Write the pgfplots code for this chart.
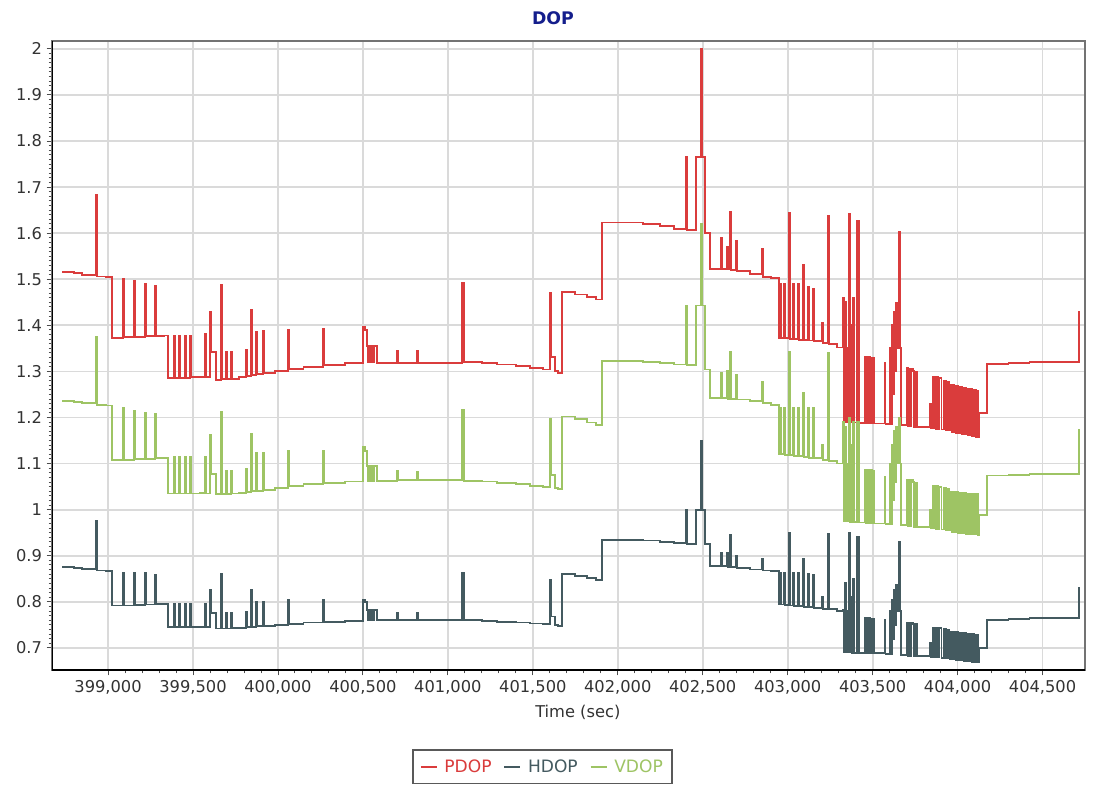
\documentclass[border=0pt]{standalone}
\usepackage{pgfplots}
\pgfplotsset{compat=1.18}
\usepackage{pgfplotstable}
\usepackage{fontspec}
\setmainfont{DejaVu Sans}
\definecolor{pcol}{RGB}{218,60,60}
\definecolor{hcol}{RGB}{68,90,96}
\definecolor{vcol}{RGB}{158,196,100}
\definecolor{gridc}{RGB}{218,218,218}
\definecolor{titlec}{RGB}{20,30,140}
\newcommand\tf{\fontsize{12.2}{14.5}\selectfont}

\pgfplotstableread{
t p h v
398729 1.516 0.875 1.236
398800 1.513 0.874 1.234
398847 1.510 0.871 1.232
398929 1.683 0.975 1.375
398937 1.506 0.868 1.228
398990 1.505 0.867 1.226
399024 1.373 0.792 1.108
399088 1.500 0.862 1.220
399094 1.374 0.792 1.108
399153 1.497 0.862 1.215
399159 1.375 0.793 1.109
399218 1.490 0.862 1.210
399224 1.376 0.794 1.110
399276 1.486 0.858 1.208
399282 1.377 0.795 1.112
399330 1.378 0.796 1.113
399353 1.286 0.745 1.035
399388 1.377 0.795 1.115
399393 1.286 0.745 1.035
399418 1.377 0.795 1.115
399423 1.286 0.745 1.035
399453 1.377 0.795 1.115
399458 1.286 0.745 1.035
399482 1.377 0.795 1.115
399487 1.287 0.745 1.035
399540 1.288 0.745 1.036
399571 1.382 0.795 1.115
399576 1.288 0.745 1.035
399600 1.430 0.825 1.163
399606 1.343 0.775 1.078
399635 1.282 0.742 1.033
399665 1.488 0.860 1.213
399671 1.283 0.742 1.033
399694 1.343 0.775 1.084
399699 1.283 0.742 1.034
399723 1.343 0.775 1.084
399728 1.284 0.743 1.035
399770 1.287 0.744 1.037
399812 1.347 0.777 1.089
399817 1.290 0.745 1.039
399841 1.434 0.825 1.165
399847 1.292 0.746 1.040
399871 1.386 0.800 1.124
399876 1.294 0.747 1.041
399912 1.388 0.800 1.124
399917 1.297 0.748 1.043
399980 1.300 0.750 1.047
400059 1.390 0.805 1.128
400065 1.305 0.752 1.052
400150 1.310 0.755 1.055
400265 1.393 0.805 1.128
400271 1.314 0.757 1.058
400394 1.318 0.759 1.061
400500 1.397 0.805 1.135
400512 1.390 0.800 1.128
400522 1.356 0.783 1.095
400530 1.320 0.761 1.062
400536 1.356 0.783 1.095
400546 1.320 0.761 1.062
400552 1.356 0.783 1.095
400562 1.320 0.761 1.062
400568 1.356 0.783 1.095
400585 1.319 0.761 1.063
400700 1.345 0.775 1.085
400706 1.319 0.761 1.064
400818 1.345 0.775 1.082
400824 1.319 0.761 1.065
401082 1.492 0.862 1.217
401096 1.321 0.761 1.063
401200 1.318 0.759 1.061
401288 1.315 0.757 1.058
401400 1.311 0.755 1.055
401482 1.308 0.753 1.052
401559 1.304 0.752 1.049
401600 1.470 0.848 1.197
401606 1.332 0.768 1.076
401629 1.300 0.750 1.047
401650 1.297 0.748 1.045
401671 1.473 0.860 1.202
401750 1.467 0.856 1.196
401820 1.461 0.851 1.189
401870 1.456 0.847 1.184
401906 1.623 0.935 1.323
402150 1.620 0.933 1.320
402250 1.615 0.930 1.318
402330 1.609 0.927 1.315
402400 1.766 1.000 1.443
402407 1.607 0.926 1.314
402459 1.766 1.000 1.443
402490 2.000 1.150 1.620
402497 1.766 1.000 1.443
402512 1.600 0.925 1.304
402541 1.523 0.878 1.243
402606 1.590 0.905 1.297
402612 1.522 0.877 1.242
402641 1.571 0.905 1.300
402647 1.521 0.876 1.241
402659 1.646 0.945 1.343
402665 1.520 0.875 1.240
402694 1.583 0.900 1.293
402700 1.518 0.874 1.239
402780 1.512 0.870 1.235
402847 1.566 0.893 1.278
402853 1.505 0.868 1.232
402900 1.502 0.866 1.228
402947 1.373 0.794 1.120
402955 1.490 0.863 1.220
402961 1.373 0.794 1.120
402976 1.490 0.863 1.220
402982 1.372 0.793 1.119
403006 1.644 0.950 1.343
403012 1.371 0.792 1.118
403029 1.490 0.863 1.220
403035 1.370 0.791 1.117
403059 1.490 0.863 1.220
403065 1.369 0.790 1.116
403088 1.530 0.892 1.253
403094 1.368 0.789 1.115
403118 1.484 0.860 1.220
403124 1.367 0.788 1.113
403147 1.480 0.858 1.220
403153 1.366 0.787 1.112
403200 1.405 0.810 1.140
403210 1.362 0.785 1.108
403235 1.638 0.948 1.340
403241 1.360 0.784 1.106
403290 1.352 0.780 1.100
403324 1.460 0.783 1.190
403330 1.190 0.690 0.975
403336 1.450 0.840 1.180
403342 1.190 0.690 0.975
403348 1.350 0.780 1.100
403353 1.190 0.690 0.975
403359 1.642 0.950 1.200
403365 1.190 0.690 0.974
403371 1.400 0.810 1.140
403377 1.189 0.689 0.974
403385 1.460 0.850 1.190
403391 1.189 0.689 0.973
403406 1.627 0.940 1.190
403411 1.450 0.840 1.150
403416 1.627 0.940 1.190
403422 1.188 0.689 0.972
403453 1.332 0.764 1.087
403459 1.188 0.689 0.971
403465 1.332 0.764 1.087
403471 1.188 0.688 0.971
403477 1.331 0.764 1.086
403483 1.187 0.688 0.971
403489 1.330 0.763 1.086
403495 1.187 0.688 0.970
403501 1.330 0.763 1.085
403510 1.187 0.688 0.970
403570 1.319 0.760 1.070
403576 1.185 0.687 0.968
403600 1.350 0.780 1.100
403606 1.186 0.687 0.968
403612 1.400 0.805 1.140
403618 1.250 0.720 1.020
403624 1.430 0.825 1.170
403630 1.300 0.750 1.060
403636 1.449 0.837 1.180
403642 1.350 0.780 1.100
403648 1.449 0.837 1.180
403653 1.603 0.930 1.200
403660 1.350 0.780 1.100
403666 1.183 0.685 0.966
403700 1.308 0.755 1.065
403706 1.181 0.683 0.964
403712 1.306 0.755 1.065
403718 1.181 0.683 0.964
403724 1.305 0.754 1.064
403738 1.300 0.752 1.060
403745 1.180 0.682 0.963
403752 1.298 0.751 1.059
403760 1.179 0.682 0.962
403835 1.230 0.710 1.000
403842 1.176 0.680 0.959
403853 1.289 0.744 1.052
403859 1.176 0.680 0.959
403865 1.288 0.744 1.052
403871 1.175 0.679 0.958
403877 1.287 0.743 1.051
403883 1.175 0.679 0.958
403890 1.285 0.743 1.050
403905 1.174 0.678 0.957
403918 1.280 0.742 1.048
403930 1.173 0.677 0.956
403945 1.278 0.740 1.045
403952 1.172 0.676 0.955
403960 1.271 0.735 1.039
403966 1.168 0.675 0.952
403972 1.270 0.735 1.039
403978 1.168 0.675 0.952
403984 1.269 0.734 1.038
403990 1.167 0.674 0.951
403996 1.268 0.734 1.038
404002 1.166 0.674 0.950
404008 1.267 0.733 1.037
404014 1.166 0.673 0.950
404020 1.266 0.733 1.037
404026 1.165 0.673 0.949
404032 1.265 0.732 1.036
404038 1.164 0.672 0.949
404044 1.264 0.732 1.036
404050 1.163 0.672 0.948
404056 1.263 0.731 1.035
404062 1.162 0.671 0.948
404068 1.262 0.731 1.035
404074 1.161 0.671 0.947
404080 1.261 0.730 1.035
404086 1.160 0.670 0.947
404092 1.260 0.730 1.034
404098 1.159 0.670 0.946
404104 1.259 0.729 1.034
404110 1.158 0.669 0.946
404116 1.258 0.729 1.034
404122 1.157 0.669 0.945
404129 1.210 0.700 0.988
404171 1.316 0.760 1.074
404300 1.318 0.762 1.076
404423 1.320 0.764 1.078
404716 1.430 0.830 1.173
404722 1.430 0.830 1.173
}\dop

\begin{document}
\begin{tikzpicture}
\path[use as bounding box] (0pt,0pt) rectangle (821.25pt,588.75pt);
\begin{axis}[
  at={(39pt,86.25pt)}, anchor=south west,
  width=774.75pt, height=471.75pt, scale only axis,
  xmin=398670, xmax=404750, ymin=0.652, ymax=2.017,
  xtick={399000,399500,400000,400500,401000,401500,402000,402500,403000,403500,404000,404500},
  ytick={0.7,0.8,0.9,1,1.1,1.2,1.3,1.4,1.5,1.6,1.7,1.8,1.9,2},
  scaled x ticks=false, scaled y ticks=false,
  minor x tick num=4, minor y tick num=9,
  grid=major, major grid style={draw=gridc, line width=1.3pt},
  tick align=outside, tick pos=left,
  major tick length=4pt, minor tick length=2.5pt,
  every tick/.style={black!70, line width=0.7pt},
  axis line style={draw=black!55, line width=1.5pt},
  /pgf/number format/assume math mode=true,
  xticklabel style={/pgf/number format/.cd, fixed, 1000 sep={,}},
  yticklabel style={/pgf/number format/.cd, fixed, precision=1},
  ticklabel style={font=\tf, text=black!80},
  title={DOP},
  title style={at={(0.485,1.024)}, anchor=center, font=\bfseries\fontsize{13}{15}\selectfont, text=titlec},
  xlabel={Time (sec)},
  xlabel style={at={(0.509,-0.0668)}, anchor=center, font=\tf, text=black!80},
  legend style={at={(0.475,-0.154)}, anchor=center, legend columns=3, draw=black!65, line width=1.1pt,
    font=\fontsize{12.8}{15}\selectfont, inner xsep=5pt, inner ysep=5pt,
    /tikz/every odd column/.append style={column sep=3pt},
    /tikz/every even column/.append style={column sep=7pt}},
  legend image code/.code={\draw[#1, line width=1.4pt] (0pt,0pt) -- (12pt,0pt);},
]
\addplot[const plot, pcol, line width=1.4pt] table[x=t, y=p] {\dop};
\addlegendentry{\textcolor{pcol}{PDOP}}
\addplot[const plot, hcol, line width=1.4pt] table[x=t, y=h] {\dop};
\addlegendentry{\textcolor{hcol}{HDOP}}
\addplot[const plot, vcol, line width=1.4pt] table[x=t, y=v] {\dop};
\addlegendentry{\textcolor{vcol}{VDOP}}
\draw[black, line width=2.2pt] (rel axis cs:0,0) -- (rel axis cs:0,1);
\draw[black, line width=2.2pt] (rel axis cs:0,0) -- (rel axis cs:1,0);
\end{axis}
\end{tikzpicture}
\end{document}
